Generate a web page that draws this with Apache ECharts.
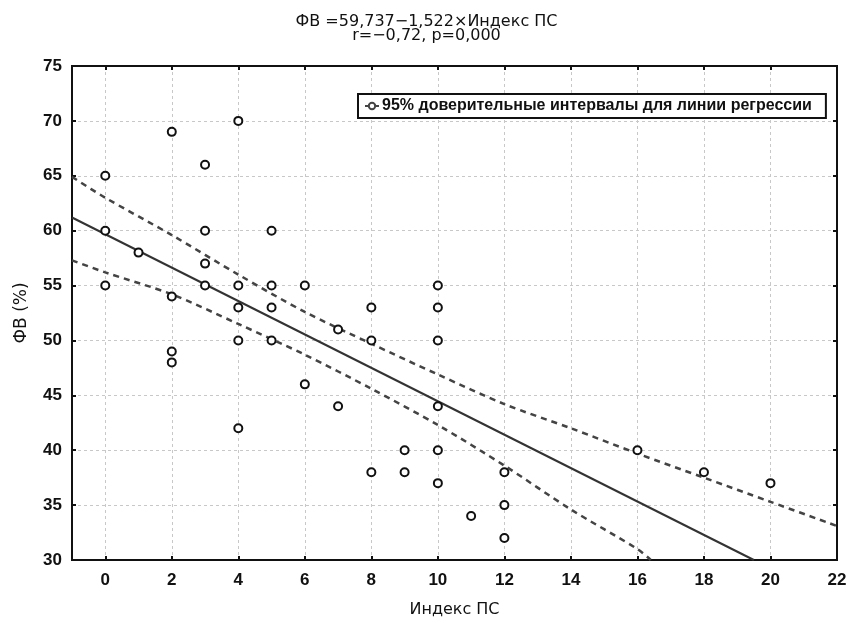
<!DOCTYPE html>
<html>
<head>
<meta charset="utf-8">
<script src="https://cdn.jsdelivr.net/npm/echarts@6/dist/echarts.min.js"></script>
<style>
  html, body { margin: 0; padding: 0; background: #fff; }
  #chart { width: 853px; height: 623px; }
</style>
</head>
<body>
<div id="chart"></div>
<script>
// observed points: [Индекс ПС, ФВ %]
const points = [
  [0, 65], [0, 60], [0, 55],
  [1, 58],
  [2, 69], [2, 54], [2, 49], [2, 48],
  [3, 66], [3, 60], [3, 57], [3, 55],
  [4, 70], [4, 55], [4, 53], [4, 50], [4, 42],
  [5, 60], [5, 55], [5, 53], [5, 50],
  [6, 55], [6, 46],
  [7, 51], [7, 44],
  [8, 53], [8, 50], [8, 38],
  [9, 40], [9, 38],
  [10, 55], [10, 53], [10, 50], [10, 44], [10, 40], [10, 37],
  [11, 34],
  [12, 38], [12, 35], [12, 32],
  [16, 40],
  [18, 38],
  [20, 37]
];

// regression line
const regLine = [[-1, 61.2], [19.5, 30]];

// 95% confidence band
const upperBand = [
  [-1, 64.9], [0, 63.0], [2, 59.6], [4, 56.0], [6, 52.6], [8, 49.7],
  [10, 46.9], [12, 44.2], [14, 42.0], [16, 39.7], [18, 37.5], [20, 35.3], [22, 33.1]
];
const lowerBand = [
  [-1, 57.3], [0, 56.2], [2, 54.2], [4, 51.5], [6, 48.7], [8, 45.6],
  [10, 42.3], [12, 38.6], [14, 34.6], [16, 31.0], [16.4, 30]
];

const titleText = 'ФВ =59,737−1,522×Индекс ПС\nr=−0,72, p=0,000';
const legendName = '95% доверительные интервалы для линии регрессии';

const font = 'Liberation Sans, Arial, sans-serif';
const wideFont = 'DejaVu Sans, Liberation Sans, sans-serif';
const gridLine = { show: true, lineStyle: { color: '#c8c8c8', type: [3, 3], width: 1 } };
const frameLine = { show: true, onZero: false, lineStyle: { color: '#111', width: 2 } };
const innerTick = { show: true, inside: true, length: 4, lineStyle: { color: '#111', width: 2 } };

const chart = echarts.init(document.getElementById('chart'));
chart.setOption({
  animation: false,
  backgroundColor: '#fff',
  title: {
    text: titleText,
    left: 'center',
    top: 10,
    textStyle: { fontFamily: wideFont, fontSize: 16, fontWeight: 'normal', color: '#111', lineHeight: 14 }
  },
  legend: {
    data: [legendName],
    left: 358,
    top: 94,
    backgroundColor: '#fff',
    borderColor: '#111',
    borderWidth: 2,
    borderRadius: 0,
    padding: [4, 14, 4, 6],
    itemWidth: 14,
    itemHeight: 8,
    itemGap: 2,
    textStyle: { fontFamily: font, fontSize: 16, fontWeight: 'bold', color: '#111', padding: [0, 0, 0, -2] }
  },
  grid: { left: 72, right: 16, top: 66, bottom: 51, show: true, borderColor: '#111', borderWidth: 2 },
  xAxis: [{
    type: 'value',
    min: -1, max: 22,
    minInterval: 2, maxInterval: 2,
    name: 'Индекс ПС',
    nameLocation: 'middle',
    nameGap: 42,
    nameTextStyle: { fontFamily: wideFont, fontSize: 16, color: '#111' },
    axisLine: frameLine,
    axisTick: innerTick,
    axisLabel: {
      fontFamily: font, fontSize: 17, fontWeight: 'bold', color: '#111', margin: 12,
      formatter: v => (v % 2 === 0 ? String(v) : '')
    },
    splitLine: gridLine
  }, {
    type: 'value',
    position: 'top',
    min: -1, max: 22,
    minInterval: 2, maxInterval: 2,
    axisLine: frameLine,
    axisTick: innerTick,
    axisLabel: { show: false },
    splitLine: { show: false }
  }],
  yAxis: [{
    type: 'value',
    min: 30, max: 75, interval: 5,
    name: 'ФВ (%)',
    nameLocation: 'middle',
    nameGap: 42,
    nameTextStyle: { fontFamily: wideFont, fontSize: 17, color: '#111' },
    axisLine: frameLine,
    axisTick: innerTick,
    axisLabel: { fontFamily: font, fontSize: 17, fontWeight: 'bold', color: '#111', margin: 10 },
    splitLine: gridLine
  }, {
    type: 'value',
    position: 'right',
    min: 30, max: 75, interval: 5,
    axisLine: frameLine,
    axisTick: innerTick,
    axisLabel: { show: false },
    splitLine: { show: false }
  }],
  series: [
    {
      name: 'Регрессия',
      type: 'line',
      data: regLine,
      showSymbol: false,
      lineStyle: { color: '#333', width: 2 },
      z: 2
    },
    {
      name: legendName,
      type: 'line',
      data: upperBand,
      smooth: 0.3,
      showSymbol: false,
      itemStyle: { color: '#444' },
      lineStyle: { color: '#444', width: 2.5, type: [6, 5] },
      z: 2
    },
    {
      name: legendName,
      type: 'line',
      data: lowerBand,
      smooth: 0.3,
      showSymbol: false,
      itemStyle: { color: '#444' },
      lineStyle: { color: '#444', width: 2.5, type: [6, 5] },
      z: 2
    },
    {
      name: 'ФВ',
      type: 'scatter',
      data: points,
      symbol: 'circle',
      symbolSize: 8,
      itemStyle: { color: '#fff', borderColor: '#111', borderWidth: 2, opacity: 1 },
      z: 3
    }
  ]
});
</script>
</body>
</html>
